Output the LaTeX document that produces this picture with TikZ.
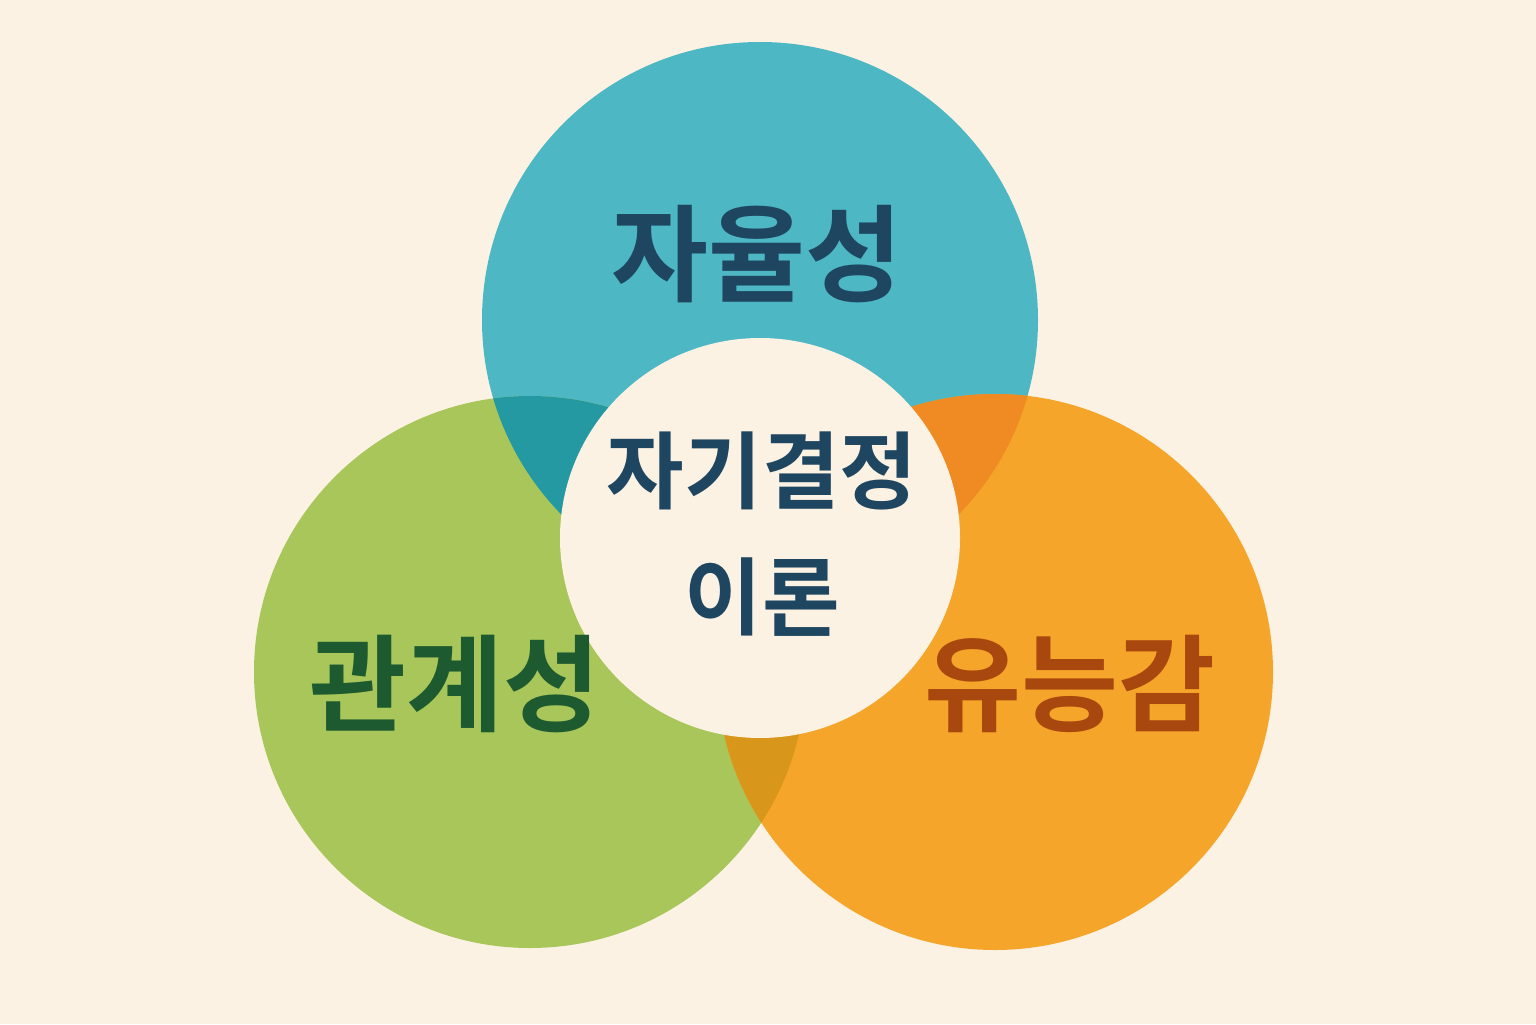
\documentclass[tikz,border=0pt]{standalone}
\usepackage{fontspec}
\setmainfont{Noto Sans CJK KR}[BoldFont={Noto Sans CJK KR Bold}]
\usepackage{tikz}
\definecolor{bgcol}{HTML}{FCF2E3}
\definecolor{autocol}{HTML}{4DB8C4}
\definecolor{relcol}{HTML}{A8C65A}
\definecolor{compcol}{HTML}{F5A52A}
\definecolor{arcol}{HTML}{2599A2}
\definecolor{accol}{HTML}{F08A22}
\definecolor{rccol}{HTML}{D8961A}
\definecolor{navy}{HTML}{1F4660}
\definecolor{dgreen}{HTML}{1E5A30}
\definecolor{brown}{HTML}{A8480E}
\begin{document}
\begin{tikzpicture}
\tikzstyle{label}=[font=\fontsize{30}{34}\selectfont\bfseries]
\tikzstyle{core}=[font=\fontsize{24}{36}\selectfont\bfseries, text=navy, align=center]

  \fill[bgcol] (0,0) rectangle (15.36,10.24);
  \useasboundingbox (0,0) rectangle (15.36,10.24);

  \coordinate (auto) at (7.60,7.04);
  \coordinate (rel)  at (5.30,3.52);
  \coordinate (comp) at (9.95,3.52);
  \coordinate (mid)  at (7.60,4.86);

  \fill[autocol] (auto) circle (2.78);
  \fill[relcol]  (rel)  circle (2.76);
  \fill[compcol] (comp) circle (2.78);

  % overlaps
  \begin{scope}
    \clip (auto) circle (2.78);
    \fill[arcol] (rel) circle (2.76);
    \fill[accol] (comp) circle (2.78);
  \end{scope}
  \begin{scope}
    \clip (rel) circle (2.76);
    \fill[rccol] (comp) circle (2.78);
  \end{scope}

  \fill[bgcol] (mid) circle (2.0);

  \node[label, text=navy]   (autotext) at (7.57,7.70) {자율성};
  \node[label, text=dgreen] (reltext)  at (4.55,3.40) {관계성};
  \node[label, text=brown]  (comptext) at (10.70,3.40) {유능감};
  \node[core] (midtext) at (7.62,4.90) {자기결정\\이론};
\end{tikzpicture}
\end{document}
